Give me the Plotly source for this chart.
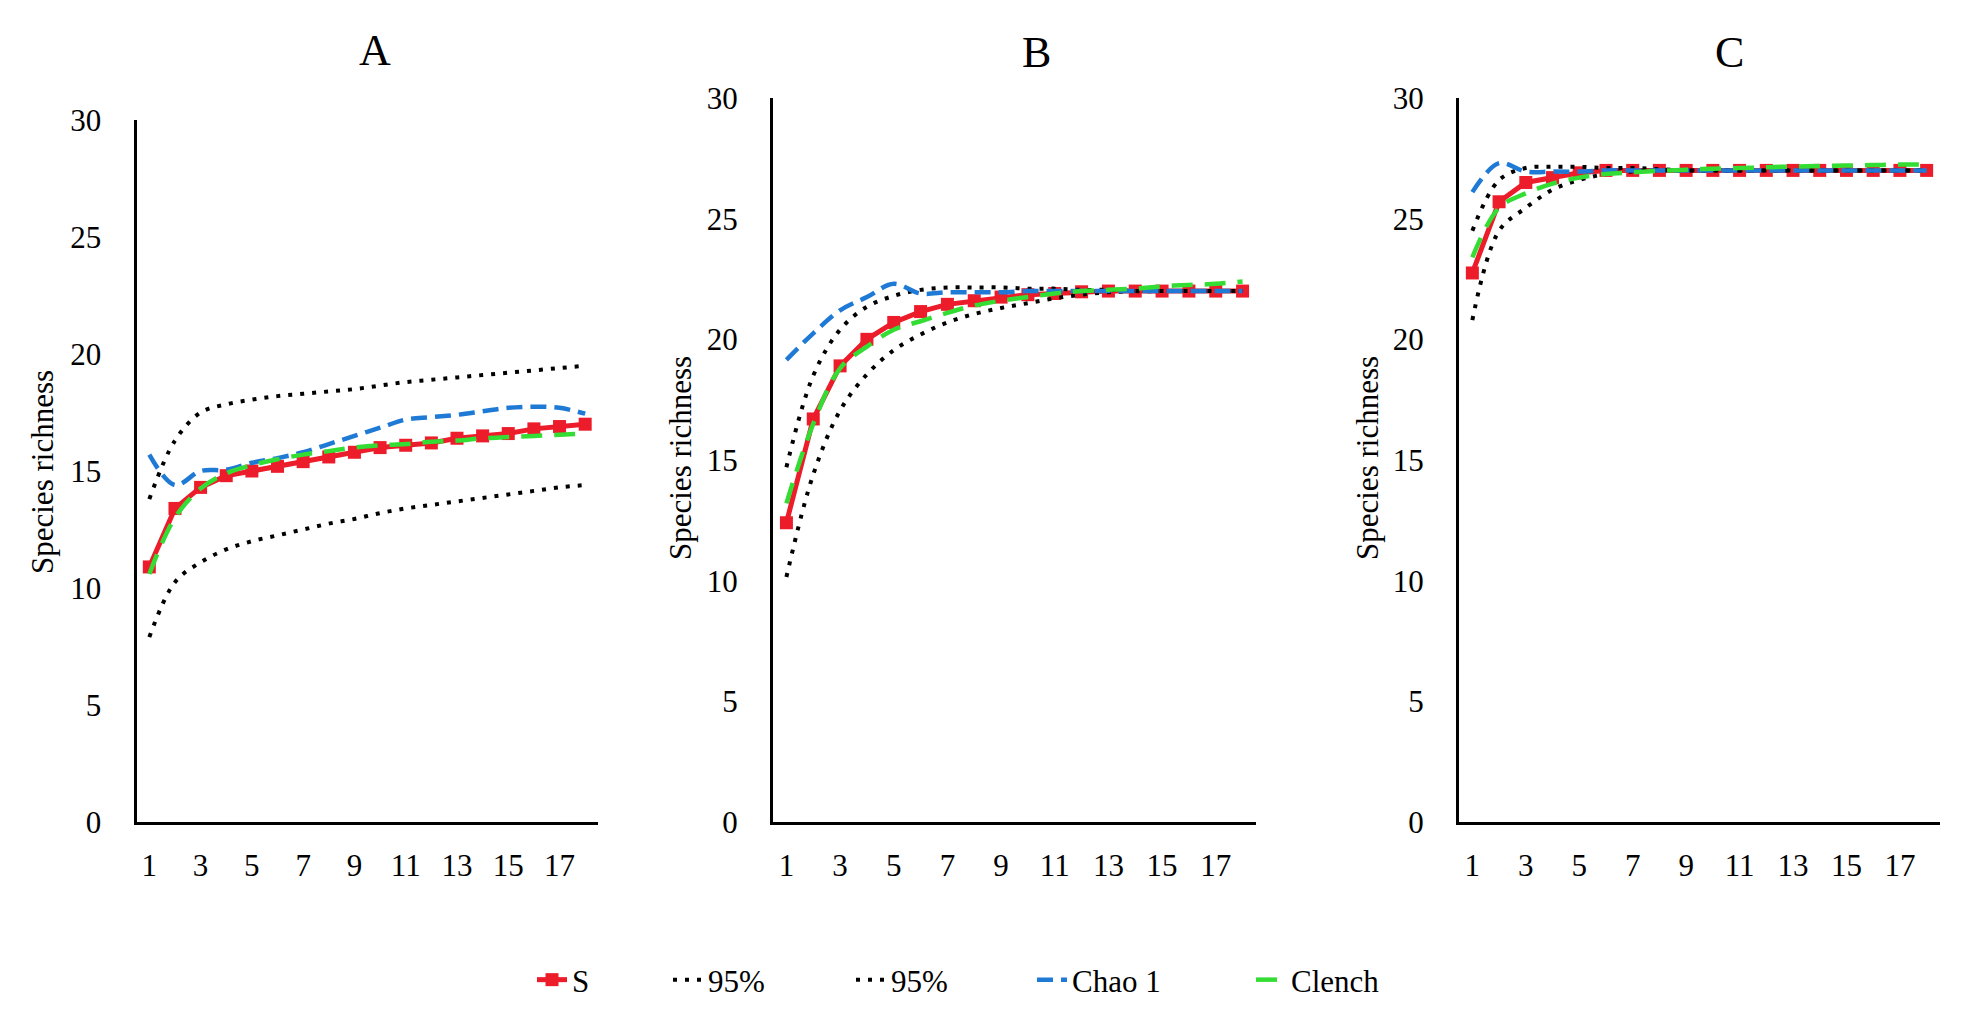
import plotly.graph_objects as go

W, H = 1976, 1036

# ---------------- data ----------------
samples = list(range(1, 19))
x_tick_vals = [1, 3, 5, 7, 9, 11, 13, 15, 17]
x_tick_text = ["1", "3", "5", "7", "9", "11", "13", "15", "17"]
y_tick_vals = [0, 5, 10, 15, 20, 25, 30]
y_tick_text = ["0", "5", "10", "15", "20", "25", "30"]
panel_titles = ["A", "B", "C"]
y_title = "Species richness"
series_names = ["S", "95%", "95%", "Chao 1", "Clench"]

# Panel A
s_A = [10.9, 13.4, 14.3, 14.8, 15.0, 15.2, 15.4, 15.6, 15.8, 16.0, 16.1, 16.2, 16.4, 16.5, 16.6, 16.8, 16.9, 17.0]
upper_A = [13.8, 16.3, 17.5, 17.85, 18.05, 18.2, 18.3, 18.4, 18.5, 18.65, 18.8, 18.9, 19.0, 19.1, 19.2, 19.3, 19.4, 19.5]
lower_A = [7.9, 10.25, 11.1, 11.65, 12.0, 12.25, 12.5, 12.75, 12.95, 13.2, 13.4, 13.55, 13.7, 13.85, 14.0, 14.15, 14.3, 14.4]
chao_A = [15.7, 14.4, 15.0, 15.05, 15.35, 15.55, 15.8, 16.15, 16.5, 16.85, 17.2, 17.3, 17.4, 17.55, 17.7, 17.75, 17.7, 17.45]
clench_A = [10.6, 13.0, 14.25, 14.9, 15.25, 15.5, 15.7, 15.85, 16.0, 16.1, 16.15, 16.25, 16.3, 16.4, 16.45, 16.5, 16.55, 16.6]

# Panel B
s_B = [12.4, 16.7, 18.9, 20.0, 20.7, 21.15, 21.45, 21.6, 21.75, 21.85, 21.9, 21.97, 22.0, 22.0, 22.0, 22.0, 22.0, 22.0]
upper_B = [14.7, 18.5, 20.4, 21.35, 21.8, 22.05, 22.15, 22.15, 22.15, 22.1, 22.1, 22.05, 22.05, 22.0, 22.0, 22.0, 22.0, 22.0]
lower_B = [10.15, 14.4, 17.05, 18.55, 19.55, 20.2, 20.7, 21.05, 21.3, 21.5, 21.7, 21.85, 21.95, 22.0, 22.0, 22.0, 22.0, 22.0]
chao_B = [19.15, 20.25, 21.2, 21.75, 22.3, 21.9, 21.95, 21.95, 21.95, 22.0, 22.0, 22.0, 22.0, 22.0, 22.0, 22.0, 22.0, 22.0]
clench_B = [13.2, 16.5, 18.8, 19.7, 20.4, 20.75, 21.1, 21.4, 21.6, 21.75, 21.9, 22.0, 22.05, 22.1, 22.2, 22.25, 22.3, 22.4]

# Panel C
s_C = [22.75, 25.7, 26.5, 26.7, 26.9, 27.0, 27.0, 27.0, 27.0, 27.0, 27.0, 27.0, 27.0, 27.0, 27.0, 27.0, 27.0, 27.0]
upper_C = [24.5, 26.6, 27.1, 27.15, 27.15, 27.1, 27.1, 27.05, 27.0, 27.0, 27.0, 27.0, 27.0, 27.0, 27.0, 27.0, 27.0, 27.0]
lower_C = [20.8, 24.5, 25.45, 26.2, 26.6, 26.85, 26.95, 27.0, 27.0, 27.0, 27.0, 27.0, 27.0, 27.0, 27.0, 27.0, 27.0, 27.0]
chao_C = [26.1, 27.3, 26.95, 26.95, 26.95, 27.0, 27.0, 27.0, 27.0, 27.0, 27.0, 27.0, 27.0, 27.0, 27.0, 27.0, 27.0, 27.0]
clench_C = [23.4, 25.45, 26.05, 26.45, 26.7, 26.85, 26.92, 26.98, 27.03, 27.07, 27.1, 27.13, 27.16, 27.18, 27.2, 27.22, 27.24, 27.25]

panels = [
    [s_A, upper_A, lower_A, chao_A, clench_A],
    [s_B, upper_B, lower_B, chao_B, clench_B],
    [s_C, upper_C, lower_C, chao_C, clench_C],
]

# ---------------- styling ----------------
FONT = "Liberation Serif, Times New Roman, serif"
RED = "#EC1C2A"
BLUE = "#1F7AD6"
GREEN = "#33DD33"
BLACK = "#000000"

styles = [
    dict(mode="lines+markers", line=dict(color=RED, width=5),
         marker=dict(symbol="square", size=13, color=RED)),
    dict(mode="lines", line=dict(color=BLACK, width=4, dash="4px,8px", shape="spline")),
    dict(mode="lines", line=dict(color=BLACK, width=4, dash="4px,8px", shape="spline")),
    dict(mode="lines", line=dict(color=BLUE, width=4.5, dash="16px,8px", shape="spline")),
    dict(mode="lines", line=dict(color=GREEN, width=4.5, dash="21px,12px", shape="spline")),
]
legend_widths = [91, 138, 136, 174, 100]

# panel geometry in pixels
PANEL_X = [(136.5, 598), (773, 1256), (1459, 1940)]
PANEL_Y = [(120, 822), (98, 822), (98, 822)]
TITLE_POS = [(375, 50), (1036, 52), (1729, 52)]
YTITLE_POS = [(42, 472), (680, 458), (1367, 458)]


def fx(px):
    return px / W


def fy(py):
    return 1 - py / H


fig = go.Figure()

for p, series in enumerate(panels):
    suffix = "" if p == 0 else str(p + 1)
    for k, vals in enumerate(series):
        st = styles[k]
        fig.add_trace(go.Scatter(
            x=samples, y=vals, name=series_names[k],
            xaxis="x" + suffix, yaxis="y" + suffix,
            showlegend=(p == 0), legendwidth=legend_widths[k],
            cliponaxis=False, hoverinfo="skip",
            **st,
        ))

layout = dict(
    width=W, height=H,
    margin=dict(l=0, r=0, t=0, b=0),
    paper_bgcolor="white", plot_bgcolor="white",
    font=dict(family=FONT, size=31, color=BLACK),
    showlegend=True,
    legend=dict(orientation="h", x=(572 - 40) / W, xanchor="left",
                y=fy(980), yanchor="middle", font=dict(size=31, family=FONT),
                itemwidth=30, bgcolor="rgba(0,0,0,0)", tracegroupgap=0),
)

annotations = []
for p in range(3):
    suffix = "" if p == 0 else str(p + 1)
    (x0, x1), (ytop, ybot) = PANEL_X[p], PANEL_Y[p]
    layout["xaxis" + suffix] = dict(
        domain=[fx(x0), fx(x1)], range=[0.5, 18.5], anchor="y" + suffix,
        tickmode="array", tickvals=x_tick_vals, ticktext=x_tick_text,
        showline=True, linecolor=BLACK, linewidth=3, ticks="",
        showgrid=False, zeroline=False, automargin=False,
        tickfont=dict(size=31, family=FONT), ticklabelstandoff=14,
    )
    layout["yaxis" + suffix] = dict(
        domain=[fy(ybot), fy(ytop)], range=[0, 30], anchor="x" + suffix,
        tickmode="array", tickvals=y_tick_vals, ticktext=y_tick_text,
        showline=True, linecolor=BLACK, linewidth=3, ticks="",
        showgrid=False, zeroline=False, automargin=False,
        tickfont=dict(size=31, family=FONT), ticklabelstandoff=26,
    )
    tx, ty = TITLE_POS[p]
    annotations.append(dict(text=panel_titles[p], x=fx(tx), y=fy(ty), xref="paper", yref="paper",
                            showarrow=False, xanchor="center", yanchor="middle",
                            font=dict(size=44, family=FONT, color=BLACK)))
    ax, ay = YTITLE_POS[p]
    annotations.append(dict(text=y_title, x=fx(ax), y=fy(ay), xref="paper", yref="paper",
                            showarrow=False, xanchor="center", yanchor="middle", textangle=-90,
                            font=dict(size=31, family=FONT, color=BLACK)))

layout["annotations"] = annotations
fig.update_layout(**layout)

fig.write_html("out.html")
